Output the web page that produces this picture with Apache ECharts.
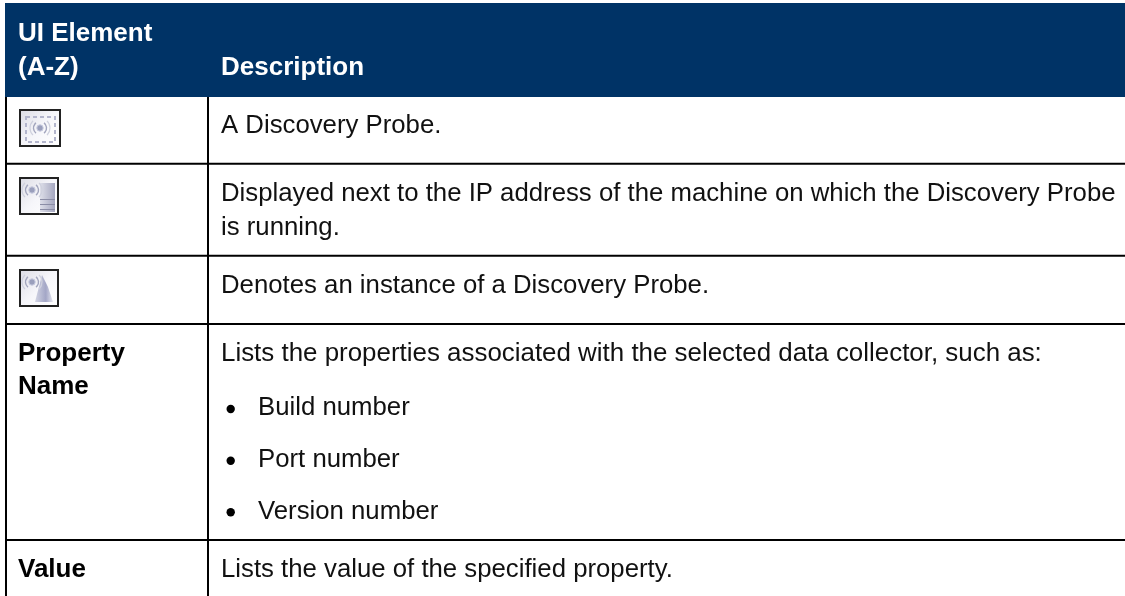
<!DOCTYPE html>
<html><head><meta charset="utf-8">
<style>html,body{margin:0;padding:0;background:#fff}#c{width:1125px;height:596px}</style>
<script src="https://cdn.jsdelivr.net/npm/echarts@6/dist/echarts.min.js"></script>
</head><body><div id="c"></div>
<script>
var headerColumn1 = ["UI Element", "(A-Z)"];
var headerColumn2 = "Description";
var rowNames = [null, null, null, ["Property", "Name"], ["Value"]];
var rowIcons = ["frame", "server", "cone", null, null];
var rowDescriptions = [
  ["A Discovery Probe."],
  ["Displayed next to the IP address of the machine on which the Discovery Probe", "is running."],
  ["Denotes an instance of a Discovery Probe."],
  ["Lists the properties associated with the selected data collector, such as:"],
  ["Lists the value of the specified property."]
];
var propertyBullets = ["Build number", "Port number", "Version number"];

var FONT = '"Liberation Sans", Arial, sans-serif';
var HEAD = '#003366', INK = '#000', TXT = '#111';
var els = [];
function rect(x,y,w,h,fill,z){els.push({type:'rect',shape:{x:x,y:y,width:w,height:h},style:{fill:fill},z:z||1,silent:true});}
// base is the wanted baseline; zrender draws text middle-aligned
function text(x,base,s,size,bold,fill){els.push({type:'text',x:x,y:base-size*0.277,z:5,silent:true,style:{text:s,fill:fill||TXT,font:(bold?'bold ':'')+size+'px '+FONT,verticalAlign:'middle',align:'left'}});}

var TOP=3, HEAD_B=97, LEFT=5, DIV=207, W=1125, H=596;
var lineYs=[162.7,254.8,323,539];
rect(LEFT,TOP,W-LEFT,HEAD_B-TOP,HEAD);
rect(LEFT,HEAD_B,2,H-HEAD_B,INK);
rect(DIV,HEAD_B,2,H-HEAD_B,INK);
lineYs.forEach(function(y){rect(LEFT,y,W-LEFT,2,INK);});

var NAME_X=18, DESC_X=221, BODY=25.76, BOLD=26;
text(NAME_X,40.7,headerColumn1[0],BOLD,true,'#fff');
text(NAME_X,75,headerColumn1[1],BOLD,true,'#fff');
text(DESC_X,75,headerColumn2,BOLD,true,'#fff');

var descBases=[[132.7],[200.7,235],[292.7],[360.7],[576.7]];
rowDescriptions.forEach(function(lines,i){lines.forEach(function(l,j){text(DESC_X,descBases[i][j],l,i===3?25.92:BODY);});});
var nameBases=[null,null,null,[360.7,394],[576.7]];
rowNames.forEach(function(n,i){if(n)n.forEach(function(l,j){text(NAME_X,nameBases[i][j],l,BOLD,true,'#000');});});
var bulletBases=[415,466.7,519.3], bulletCy=[409,460.7,512.3];
propertyBullets.forEach(function(b,i){
  els.push({type:'circle',shape:{cx:230.7,cy:bulletCy[i],r:4.2},style:{fill:'#000'},z:5,silent:true});
  text(258,bulletBases[i],b,BODY);
});

function icon(x,y,w,h,kind){
  rect(x,y,w,h,'#222',6);
  els.push({type:'rect',shape:{x:x+2,y:y+2,width:w-4,height:h-4},z:7,silent:true,style:{fill:new echarts.graphic.LinearGradient(0,0,1,1,[{offset:0,color:'#dedee6'},{offset:0.5,color:'#f6f6fa'},{offset:1,color:'#ffffff'}])}});
  var cx=x+(kind==='frame'?21:13),cy=y+(kind==='frame'?19:13);
  els.push({type:'circle',shape:{cx:cx,cy:cy,r:3.2},z:9,silent:true,style:{fill:'#9a9fbc',stroke:'#c9cce0',lineWidth:1}});
  [-1,1].forEach(function(s){
    els.push({type:'arc',shape:{cx:cx,cy:cy,r:6.5,startAngle:s>0?-0.9:Math.PI-0.9,endAngle:s>0?0.9:Math.PI+0.9},z:9,silent:true,style:{stroke:'#a2a5bd',fill:null,lineWidth:1.4}});
    els.push({type:'arc',shape:{cx:cx,cy:cy,r:10,startAngle:s>0?-0.8:Math.PI-0.8,endAngle:s>0?0.8:Math.PI+0.8},z:9,silent:true,style:{stroke:'#cfd1de',fill:null,lineWidth:1.2}});
  });
  if(kind==='frame'){
    els.push({type:'rect',shape:{x:x+7,y:y+8,width:w-13,height:h-13},z:8,silent:true,style:{stroke:'#b3b5cc',fill:null,lineWidth:2,lineDash:[4,3]}});
  }
  if(kind==='server'){
    els.push({type:'rect',shape:{x:x+21,y:y+6,width:15,height:h-9},z:8,silent:true,style:{fill:new echarts.graphic.LinearGradient(0,0,1,0,[{offset:0,color:'#dedfe9'},{offset:1,color:'#a4a6bf'}])}});
    [22,27,32].forEach(function(d){rect(x+21,y+d,15,1,'#8b8da6',9);});
  }
  if(kind==='cone'){
    els.push({type:'polygon',shape:{points:[[x+23,y+6],[x+16,y+33],[x+34,y+33],[x+29,y+18]]},z:8,silent:true,style:{fill:new echarts.graphic.LinearGradient(0,0,1,0,[{offset:0,color:'#d3d5e4'},{offset:0.6,color:'#a3a6c6'},{offset:1,color:'#e6e7f0'}])}});
  }
}
var iconBoxes=[[19,109,42,38],[19,177,40,38],[19,269,40,38]];
rowIcons.forEach(function(k,i){if(k)icon(iconBoxes[i][0],iconBoxes[i][1],iconBoxes[i][2],iconBoxes[i][3],k);});

var chart=echarts.init(document.getElementById('c'),null,{renderer:'canvas'});
chart.setOption({animation:false,backgroundColor:'#fff',graphic:{elements:els}});
</script></body></html>
